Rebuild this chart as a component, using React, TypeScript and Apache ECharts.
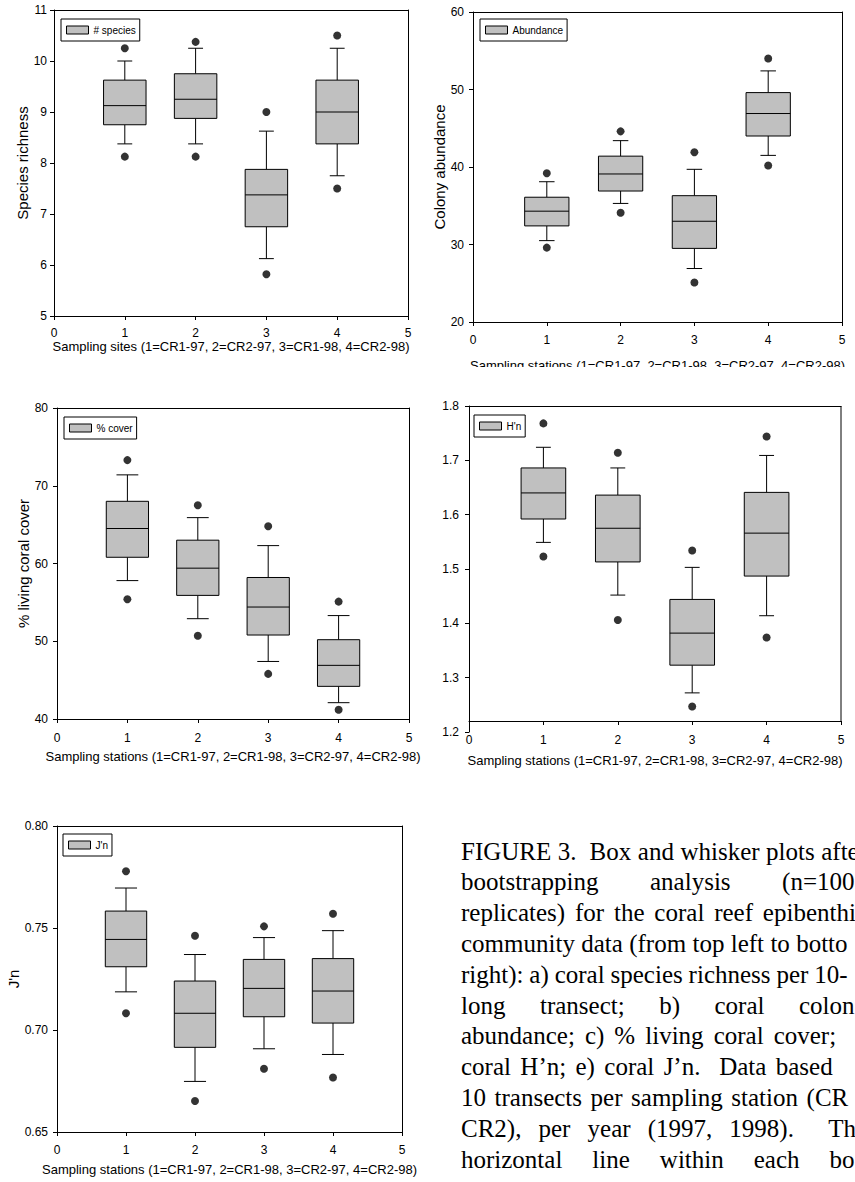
import React, { useEffect, useRef } from "react";
import * as echarts from "echarts";

// ---------- data ----------
const STATIONS = [1, 2, 3, 4];

// a) species richness
const RICH_WLO = [8.375, 8.375, 6.125, 7.75];
const RICH_Q1 = [8.75, 8.875, 6.75, 8.375];
const RICH_MED = [9.125, 9.25, 7.375, 9.0];
const RICH_Q3 = [9.625, 9.75, 7.875, 9.625];
const RICH_WHI = [10.0, 10.25, 8.625, 10.25];
const RICH_OLO = [8.125, 8.125, 5.82, 7.5];
const RICH_OHI = [10.25, 10.375, 9.0, 10.5];

// b) colony abundance
const ABUN_WLO = [30.5, 35.3, 26.9, 41.5];
const ABUN_Q1 = [32.4, 36.9, 29.5, 44.0];
const ABUN_MED = [34.3, 39.1, 33.0, 46.9];
const ABUN_Q3 = [36.1, 41.4, 36.3, 49.6];
const ABUN_WHI = [38.1, 43.4, 39.7, 52.4];
const ABUN_OLO = [29.6, 34.1, 25.1, 40.2];
const ABUN_OHI = [39.2, 44.6, 41.9, 54.0];

// c) % living coral cover
const COVER_WLO = [57.8, 52.9, 47.4, 42.1];
const COVER_Q1 = [60.8, 55.9, 50.8, 44.2];
const COVER_MED = [64.5, 59.4, 54.4, 46.9];
const COVER_Q3 = [68.0, 63.0, 58.2, 50.2];
const COVER_WHI = [71.4, 65.9, 62.3, 53.3];
const COVER_OLO = [55.4, 50.7, 45.8, 41.2];
const COVER_OHI = [73.3, 67.5, 64.8, 55.1];

// d) H'n
const H_WLO = [1.549, 1.452, 1.272, 1.414];
const H_Q1 = [1.592, 1.513, 1.323, 1.487];
const H_MED = [1.64, 1.575, 1.382, 1.566];
const H_Q3 = [1.686, 1.636, 1.444, 1.641];
const H_WHI = [1.724, 1.686, 1.503, 1.709];
const H_OLO = [1.523, 1.406, 1.247, 1.374];
const H_OHI = [1.768, 1.714, 1.534, 1.744];

// e) J'n
const J_WLO = [0.7187, 0.6748, 0.6908, 0.688];
const J_Q1 = [0.731, 0.6915, 0.7065, 0.7034];
const J_MED = [0.7444, 0.7082, 0.7204, 0.7191];
const J_Q3 = [0.7583, 0.724, 0.7346, 0.735];
const J_WHI = [0.7696, 0.737, 0.7453, 0.7487];
const J_OLO = [0.7082, 0.6652, 0.681, 0.6767];
const J_OHI = [0.7778, 0.7462, 0.7508, 0.757];

const X_TICKS_MIN = 0;
const X_TICKS_MAX = 5;

const SITES_TITLE = "Sampling sites (1=CR1-97, 2=CR2-97, 3=CR1-98, 4=CR2-98)";
const STATIONS_TITLE = "Sampling stations (1=CR1-97, 2=CR1-98, 3=CR2-97, 4=CR2-98)";

// full caption lines (used for justification) ...
const CAPTION_LINES = [
  "FIGURE 3.  Box and whisker plots after",
  "bootstrapping analysis (n=1000",
  "replicates) for the coral reef epibenthic",
  "community data (from top left to bottom",
  "right): a) coral species richness per 10-m",
  "long transect; b) coral colony",
  "abundance; c) % living coral cover; d)",
  "coral H\u2019n; e) coral J\u2019n.  Data based on",
  "10 transects per sampling station (CR1,",
  "CR2), per year (1997, 1998).  The",
  "horizontal line within each box",
];
// ... and the part of each line's last word that is visible inside the page
const CAPTION_LAST_VISIBLE = [
  "afte", "(n=100", "epibenthi", "botto", "10-", "colon", "", "", "(CR", "Th", "bo",
];

// ---------- styling ----------
const FONT_SANS = "Arial, 'Liberation Sans', Helvetica, sans-serif";
const FONT_SERIF = "'Times New Roman', 'Liberation Serif', serif";
const BOX_FILL = "#c0c0c0";
const BOX_W = 0.6;

const PANELS = [
  {
    name: "# species", xTitle: SITES_TITLE, yTitle: "Species richness",
    yMin: 5, yMax: 11, yInt: 1, dec: 0,
    wlo: RICH_WLO, q1: RICH_Q1, med: RICH_MED, q3: RICH_Q3, whi: RICH_WHI, olo: RICH_OLO, ohi: RICH_OHI,
    grid: { left: 54, top: 10, width: 354, height: 306 },
    xLabelMargin: 11, xNameGap: 24, yLabelMargin: 7, yNameGap: 23, xOffset: 0, capW: 0.21,
    legend: { left: 61, top: 19 },
  },
  {
    name: "Abundance", xTitle: STATIONS_TITLE, yTitle: "Colony abundance",
    yMin: 20, yMax: 60, yInt: 10, dec: 0,
    wlo: ABUN_WLO, q1: ABUN_Q1, med: ABUN_MED, q3: ABUN_Q3, whi: ABUN_WHI, olo: ABUN_OLO, ohi: ABUN_OHI,
    grid: { left: 473, top: 12, width: 369, height: 310 },
    xLabelMargin: 12, xNameGap: 37, yLabelMargin: 9, yNameGap: 26, xOffset: 0, capW: 0.21,
    legend: { left: 480, top: 19 },
  },
  {
    name: "% cover", xTitle: STATIONS_TITLE, yTitle: "% living coral cover",
    yMin: 40, yMax: 80, yInt: 10, dec: 0,
    wlo: COVER_WLO, q1: COVER_Q1, med: COVER_MED, q3: COVER_Q3, whi: COVER_WHI, olo: COVER_OLO, ohi: COVER_OHI,
    grid: { left: 57, top: 408, width: 352, height: 311 },
    xLabelMargin: 13, xNameGap: 31, yLabelMargin: 9, yNameGap: 25, xOffset: 0, capW: 0.31,
    legend: { left: 64, top: 417 },
  },
  {
    name: "H'n", xTitle: STATIONS_TITLE, yTitle: "",
    yMin: 1.2, yMax: 1.8, yInt: 0.1, dec: 1,
    wlo: H_WLO, q1: H_Q1, med: H_MED, q3: H_Q3, whi: H_WHI, olo: H_OLO, ohi: H_OHI,
    grid: { left: 469, top: 406, width: 372, height: 326 },
    xLabelMargin: 13, xNameGap: 33, yLabelMargin: 10, yNameGap: 25, xOffset: -11, capW: 0.2,
    legend: { left: 474, top: 415 },
  },
  {
    name: "J'n", xTitle: STATIONS_TITLE, yTitle: "J'n",
    yMin: 0.65, yMax: 0.8, yInt: 0.05, dec: 2,
    wlo: J_WLO, q1: J_Q1, med: J_MED, q3: J_Q3, whi: J_WHI, olo: J_OLO, ohi: J_OHI,
    grid: { left: 57, top: 826, width: 345, height: 306 },
    xLabelMargin: 12, xNameGap: 31, yLabelMargin: 9, yNameGap: 34, xOffset: 0, capW: 0.32,
    legend: { left: 63, top: 834 },
  },
];

const CAPTION_X0 = 461;
const CAPTION_X1 = 867;
const CAPTION_Y0 = 851;
const CAPTION_STEP = 30.8;
const CAPTION_SIZE = 25;

function makeRenderItem(capW: number) {
  return (params: any, api: any) => {
    const x = api.value(0);
    const lo = api.coord([x, api.value(1)]);
    const q1 = api.coord([x, api.value(2)]);
    const md = api.coord([x, api.value(3)]);
    const q3 = api.coord([x, api.value(4)]);
    const hi = api.coord([x, api.value(5)]);
    const hw = api.size([BOX_W, 0])[0] / 2;
    const cw = api.size([capW, 0])[0] / 2;
    const cx = md[0];
    const ls = { stroke: "#000", lineWidth: 1 };
    return {
      type: "group",
      children: [
        { type: "line", shape: { x1: cx, y1: q3[1], x2: cx, y2: hi[1] }, style: ls },
        { type: "line", shape: { x1: cx - cw, y1: hi[1], x2: cx + cw, y2: hi[1] }, style: ls },
        { type: "line", shape: { x1: cx, y1: q1[1], x2: cx, y2: lo[1] }, style: ls },
        { type: "line", shape: { x1: cx - cw, y1: lo[1], x2: cx + cw, y2: lo[1] }, style: ls },
        {
          type: "rect",
          shape: { x: cx - hw, y: q3[1], width: 2 * hw, height: q1[1] - q3[1] },
          style: { fill: BOX_FILL, stroke: "#000", lineWidth: 1 },
        },
        { type: "line", shape: { x1: cx - hw, y1: md[1], x2: cx + hw, y2: md[1] }, style: ls },
      ],
    };
  };
}

function captionElements() {
  const canvas = document.createElement("canvas");
  const ctx = canvas.getContext("2d")!;
  ctx.font = `${CAPTION_SIZE}px ${FONT_SERIF}`;
  const spaceW = ctx.measureText(" ").width;
  const els: any[] = [];
  CAPTION_LINES.forEach((line, li) => {
    const parts = line.split(/( +)/);
    const words: string[] = [];
    const gaps: number[] = [];
    parts.forEach((p, i) => {
      if (i % 2 === 0) words.push(p);
      else gaps.push(p.length);
    });
    const wordW = words.map((w) => ctx.measureText(w).width);
    const units = gaps.reduce((a, b) => a + b, 0);
    const natural = wordW.reduce((a, b) => a + b, 0) + units * spaceW;
    const extraPerUnit = units > 0 ? (CAPTION_X1 - CAPTION_X0 - natural) / units : 0;
    let x = CAPTION_X0;
    const y = CAPTION_Y0 + li * CAPTION_STEP;
    words.forEach((w, i) => {
      const shown = i === words.length - 1 ? CAPTION_LAST_VISIBLE[li] : w;
      if (shown) {
        els.push({
          type: "text",
          x,
          y,
          z: 50,
          style: {
            text: shown,
            fill: "#000",
            fontSize: CAPTION_SIZE,
            fontFamily: FONT_SERIF,
            align: "left",
            verticalAlign: "middle",
            textAlign: "left",
            textVerticalAlign: "middle",
          },
        });
      }
      x += wordW[i];
      if (i < gaps.length) x += gaps[i] * (spaceW + extraPerUnit);
    });
  });
  return els;
}

function buildOption() {
  const grid: any[] = [];
  const xAxis: any[] = [];
  const yAxis: any[] = [];
  const series: any[] = [];
  const legend: any[] = [];
  const axisLine = { show: true, lineStyle: { color: "#000", width: 1 } };

  PANELS.forEach((p, i) => {
    grid.push({ ...p.grid, containLabel: false });
    xAxis.push({
      gridIndex: i, type: "value", min: X_TICKS_MIN, max: X_TICKS_MAX, interval: 1,
      position: "bottom", offset: p.xOffset,
      axisLine: { ...axisLine, onZero: false },
      axisTick: { show: true, inside: false, length: 4, lineStyle: { color: "#000" } },
      axisLabel: { color: "#000", fontSize: 12, fontFamily: FONT_SANS, margin: p.xLabelMargin },
      splitLine: { show: false },
      name: p.xTitle, nameLocation: "middle", nameGap: p.xNameGap,
      nameTextStyle: { color: "#000", fontSize: 13, fontFamily: FONT_SANS },
    });
    xAxis.push({
      gridIndex: i, type: "value", min: X_TICKS_MIN, max: X_TICKS_MAX, position: "top",
      axisLine: { ...axisLine, onZero: false }, axisTick: { show: false },
      axisLabel: { show: false }, splitLine: { show: false },
    });
    yAxis.push({
      gridIndex: i, type: "value", min: p.yMin, max: p.yMax, interval: p.yInt,
      position: "left",
      axisLine: { ...axisLine, onZero: false },
      axisTick: { show: true, inside: false, length: 4, lineStyle: { color: "#000" } },
      axisLabel: {
        color: "#000", fontSize: 12, fontFamily: FONT_SANS, margin: p.yLabelMargin,
        formatter: (v: number) => v.toFixed(p.dec),
      },
      splitLine: { show: false },
      name: p.yTitle, nameLocation: "middle", nameGap: p.yNameGap,
      nameTextStyle: { color: "#000", fontSize: 15, fontFamily: FONT_SANS },
    });
    yAxis.push({
      gridIndex: i, type: "value", min: p.yMin, max: p.yMax, position: "right",
      show: i !== 3,
      axisLine: { ...axisLine, onZero: false }, axisTick: { show: false },
      axisLabel: { show: false }, splitLine: { show: false },
    });

    series.push({
      type: "custom",
      name: p.name,
      xAxisIndex: 2 * i,
      yAxisIndex: 2 * i,
      renderItem: makeRenderItem(p.capW),
      itemStyle: { color: BOX_FILL, borderColor: "#000", borderWidth: 1 },
      encode: { x: 0, y: [1, 2, 3, 4, 5] },
      data: STATIONS.map((s, k) => [s, p.wlo[k], p.q1[k], p.med[k], p.q3[k], p.whi[k]]),
      z: 2,
    });
    series.push({
      type: "scatter",
      name: p.name + " outliers",
      xAxisIndex: 2 * i,
      yAxisIndex: 2 * i,
      symbol: "circle",
      symbolSize: 8,
      itemStyle: { color: "#000" },
      data: STATIONS.flatMap((s, k) => [[s, p.olo[k]], [s, p.ohi[k]]]),
      z: 3,
    });

    legend.push({
      data: [p.name],
      left: p.legend.left,
      top: p.legend.top,
      orient: "horizontal",
      icon: "rect",
      itemWidth: 22,
      itemHeight: 8,
      padding: [6, 4, 6, 5],
      backgroundColor: "#fff",
      borderColor: "#000",
      borderWidth: 1,
      borderRadius: 0,
      selectedMode: false,
      itemStyle: { color: BOX_FILL, borderColor: "#000", borderWidth: 1 },
      textStyle: { color: "#000", fontSize: 10, fontFamily: FONT_SANS, padding: 0 },
    });
  });

  const dGrid = PANELS[3].grid;
  const graphicEls: any[] = [
    // right border of panel d (its x axis sits above the y-axis minimum)
    {
      type: "line",
      z: 40,
      shape: {
        x1: dGrid.left + dGrid.width, y1: dGrid.top,
        x2: dGrid.left + dGrid.width, y2: dGrid.top + dGrid.height + PANELS[3].xOffset,
      },
      style: { stroke: "#000", lineWidth: 1 },
    },
    // the lower half of panel b's axis title is hidden behind panel d's page area
    {
      type: "rect",
      z: 45,
      shape: { x: 425, y: 367, width: 430, height: 32 },
      style: { fill: "#fff" },
    },
    ...captionElements(),
  ];

  return {
    animation: false,
    backgroundColor: "#fff",
    textStyle: { fontFamily: FONT_SANS },
    grid,
    xAxis,
    yAxis,
    legend,
    series,
    graphic: { elements: graphicEls },
  };
}

export default function App() {
  const ref = useRef<HTMLDivElement>(null);
  useEffect(() => {
    if (!ref.current) return;
    const chart = echarts.init(ref.current, undefined, { renderer: "svg" });
    chart.setOption(buildOption() as any);
    return () => chart.dispose();
  }, []);
  return (
    <div
      ref={ref}
      style={{ position: "absolute", left: 0, top: 0, width: 855, height: 1182, background: "#fff" }}
    />
  );
}
